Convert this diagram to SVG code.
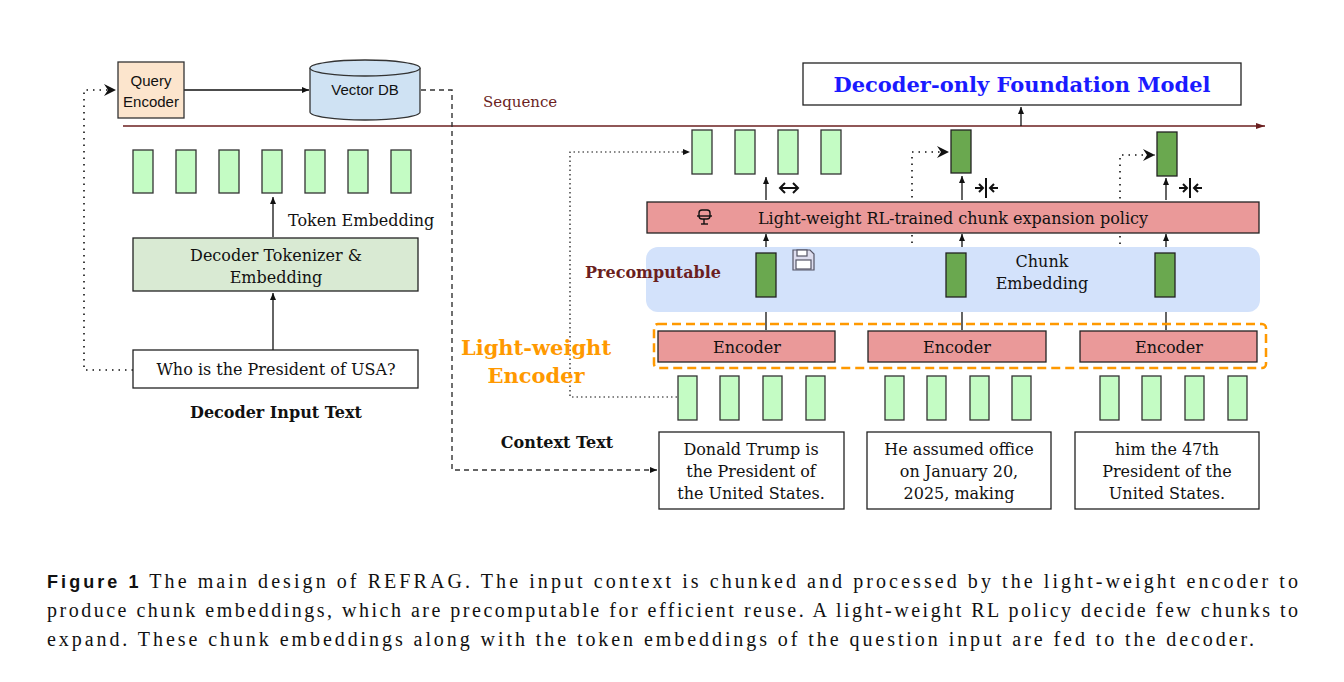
<svg xmlns="http://www.w3.org/2000/svg" width="1344" height="682" viewBox="0 0 1344 682">
<style>
.s{font-family:"Liberation Sans",Arial,sans-serif;font-size:15px;fill:#111}
.t{font-family:"DejaVu Serif","Liberation Serif",serif;font-size:16px;fill:#111}
.b{font-family:"DejaVu Serif","Liberation Serif",serif;font-weight:bold;font-size:16px;fill:#111}
.cap{font-family:"Liberation Serif","Times New Roman",serif;font-size:20px;fill:#111}
.lg{fill:#c4fcc4;stroke:#333;stroke-width:1.3}
.dg{fill:#6aa84f;stroke:#222;stroke-width:1.3}
.ln{stroke:#111;stroke-width:1.3;fill:none}
.dot{stroke:#111;stroke-width:1.6;fill:none;stroke-dasharray:1.5 5}
.fdot{stroke:#111;stroke-width:1.2;fill:none;stroke-dasharray:1.5 3}
.box{fill:#fff;stroke:#222;stroke-width:1.3}
.enc{fill:#ea9999;stroke:#222;stroke-width:1.3}
</style>
<defs>
<marker id="a" markerWidth="8" markerHeight="8" refX="7" refY="4" orient="auto" markerUnits="userSpaceOnUse"><path d="M0,1 L7,4 L0,7 z" fill="#111"/></marker>
<marker id="fa" markerWidth="14" markerHeight="12" refX="12" refY="6" orient="auto" markerUnits="userSpaceOnUse"><path d="M0,0 L12,6 L0,12 L4,6 z" fill="#111"/></marker>
<marker id="ra" markerWidth="10" markerHeight="8" refX="9" refY="4" orient="auto" markerUnits="userSpaceOnUse"><path d="M0,1 L9,4 L0,7 z" fill="#6b1f1f"/></marker>
</defs>

<g id="connectors">
<line x1="123" y1="126" x2="1265" y2="126" stroke="#6b1f1f" stroke-width="1.5" marker-end="url(#ra)"/>
<line class="ln" x1="184" y1="90" x2="309" y2="90" marker-end="url(#a)"/>
<path d="M421,90 H452 V470 H657" fill="none" stroke="#333" stroke-width="1.4" stroke-dasharray="5 4" marker-end="url(#a)"/>
<path class="dot" d="M133,370 H84 V90 H116" marker-end="url(#fa)"/>
<line class="ln" x1="1021" y1="126" x2="1021" y2="107" marker-end="url(#a)"/>
<line class="ln" x1="273" y1="237" x2="273" y2="197" marker-end="url(#a)"/>
<line class="ln" x1="273" y1="350" x2="273" y2="293" marker-end="url(#a)"/>
<path class="fdot" d="M677,397 H570 V152 H690" marker-end="url(#a)"/>
<path class="dot" d="M945,275 H912 V152 H949" marker-end="url(#fa)"/>
<path class="dot" d="M1154,275 H1120 V155 H1155" marker-end="url(#fa)"/>
<line class="ln" x1="766" y1="200" x2="766" y2="177" marker-end="url(#a)"/>
<line class="ln" x1="962" y1="200" x2="962" y2="176" marker-end="url(#a)"/>
<line class="ln" x1="1166" y1="200" x2="1166" y2="178" marker-end="url(#a)"/>
<line class="ln" x1="766" y1="255" x2="766" y2="234" marker-end="url(#a)"/>
<line class="ln" x1="962" y1="255" x2="962" y2="234" marker-end="url(#a)"/>
<line class="ln" x1="1166" y1="255" x2="1166" y2="234" marker-end="url(#a)"/>
<line class="ln" x1="766" y1="330" x2="766" y2="298" marker-end="url(#a)"/>
<line class="ln" x1="962" y1="330" x2="962" y2="298" marker-end="url(#a)"/>
<line class="ln" x1="1166" y1="330" x2="1166" y2="298" marker-end="url(#a)"/>
</g>

<g id="query-encoder"><rect x="118" y="62" width="66" height="56" fill="#fce5cd" stroke="#333" stroke-width="1.3"/>
<text class="s" x="151" y="86" text-anchor="middle">Query</text><text class="s" x="151" y="107" text-anchor="middle">Encoder</text></g>

<g id="vector-db"><path d="M310,68 V112 A55,8 0 0 0 420,112 V68" fill="#cfe2f3" stroke="#333" stroke-width="1.3"/>
<ellipse cx="365" cy="68" rx="55" ry="8" fill="#cfe2f3" stroke="#333" stroke-width="1.3"/>
<text class="s" x="365" y="95" text-anchor="middle">Vector DB</text></g>

<text x="483" y="107" font-family="DejaVu Serif,Liberation Serif,serif" font-size="15" fill="#6b1f1f">Sequence</text>

<g id="decoder-model"><rect x="803" y="63" width="438" height="42" class="box"/>
<text x="1022" y="92" text-anchor="middle" font-family="DejaVu Serif,Liberation Serif,serif" font-weight="bold" font-size="21" fill="#1a1aff">Decoder-only Foundation Model</text></g>

<g id="token-embeddings">
<rect class="lg" x="133" y="150" width="20" height="43"/><rect class="lg" x="176" y="150" width="20" height="43"/><rect class="lg" x="219" y="150" width="20" height="43"/><rect class="lg" x="262" y="150" width="20" height="43"/><rect class="lg" x="305" y="150" width="20" height="43"/><rect class="lg" x="348" y="150" width="20" height="43"/><rect class="lg" x="391" y="150" width="20" height="43"/>
<text class="t" x="288" y="226">Token Embedding</text></g>

<g id="decoder-tokenizer"><rect x="133" y="238" width="285" height="53" fill="#d9ead3" stroke="#222" stroke-width="1.3"/>
<text class="t" x="276" y="261" text-anchor="middle">Decoder Tokenizer &amp;</text><text class="t" x="276" y="283" text-anchor="middle">Embedding</text></g>

<g id="input-text"><rect x="133" y="350" width="285" height="38" class="box"/>
<text class="t" x="276" y="375" text-anchor="middle">Who is the President of USA?</text>
<text class="b" x="276" y="418" text-anchor="middle">Decoder Input Text</text></g>

<g id="expanded-tokens">
<rect class="lg" x="692" y="130" width="20" height="44"/><rect class="lg" x="735" y="130" width="20" height="44"/><rect class="lg" x="778" y="130" width="20" height="44"/><rect class="lg" x="821" y="130" width="20" height="44"/>
<rect class="dg" x="951" y="130" width="20" height="43"/><rect class="dg" x="1157" y="132" width="20" height="44"/></g>

<g id="icons" stroke="#111" stroke-width="2" fill="none">
<path d="M780,188 H798 M785,183 L780,188 L785,193 M793,183 L798,188 L793,193"/>
<path d="M975,188 H983 M979,184 L983,188 L979,192 M986,178 V198 M998,188 H990 M994,184 L990,188 L994,192"/>
<path d="M1179,188 H1187 M1183,184 L1187,188 L1183,192 M1190,178 V198 M1202,188 H1194 M1198,184 L1194,188 L1198,192"/>
</g>

<g id="policy"><rect x="647" y="202" width="612" height="31" class="enc"/>
<g stroke="#111" stroke-width="1.4" fill="none"><rect x="699" y="210" width="11" height="9" rx="3"/><line x1="697" y1="216" x2="712" y2="216"/><line x1="704" y1="219" x2="704" y2="224"/><line x1="701" y1="224" x2="708" y2="224"/></g>
<text class="t" x="953" y="224" text-anchor="middle">Light-weight RL-trained chunk expansion policy</text></g>

<g id="chunk-embedding"><rect x="646" y="247" width="614" height="65" rx="12" fill="#d3e2fb"/>
<rect class="dg" x="756" y="253" width="20" height="44"/><rect class="dg" x="946" y="253" width="20" height="44"/><rect class="dg" x="1155" y="253" width="20" height="44"/>
<g stroke="#556" stroke-width="1.2" fill="#dde"><path d="M793,250 H810 L814,254 V270 H793 Z"/><rect x="797" y="250" width="10" height="6" fill="#fff"/><rect x="796" y="260" width="15" height="9" fill="#fff"/></g>
<text class="t" x="1042" y="267" text-anchor="middle">Chunk</text><text class="t" x="1042" y="289" text-anchor="middle">Embedding</text>
<text x="585" y="278" font-family="DejaVu Serif,Liberation Serif,serif" font-weight="bold" font-size="16" fill="#6b1f1f">Precomputable</text></g>

<g id="encoders"><rect x="654" y="324" width="612" height="44" rx="4" fill="none" stroke="#ff9900" stroke-width="2.5" stroke-dasharray="9 5"/>
<rect x="658" y="331" width="177" height="31" class="enc"/><rect x="868" y="331" width="178" height="31" class="enc"/><rect x="1080" y="331" width="177" height="31" class="enc"/>
<text class="t" x="747" y="353" text-anchor="middle">Encoder</text><text class="t" x="957" y="353" text-anchor="middle">Encoder</text><text class="t" x="1169" y="353" text-anchor="middle">Encoder</text>
<text x="536" y="355" text-anchor="middle" font-family="DejaVu Serif,Liberation Serif,serif" font-weight="bold" font-size="21" fill="#ff9900">Light-weight</text>
<text x="536" y="383" text-anchor="middle" font-family="DejaVu Serif,Liberation Serif,serif" font-weight="bold" font-size="21" fill="#ff9900">Encoder</text></g>

<g id="context-tokens">
<rect class="lg" x="678" y="376" width="19" height="44"/><rect class="lg" x="720" y="376" width="19" height="44"/><rect class="lg" x="763" y="376" width="19" height="44"/><rect class="lg" x="806" y="376" width="19" height="44"/>
<rect class="lg" x="885" y="376" width="19" height="44"/><rect class="lg" x="927" y="376" width="19" height="44"/><rect class="lg" x="970" y="376" width="19" height="44"/><rect class="lg" x="1012" y="376" width="19" height="44"/>
<rect class="lg" x="1100" y="376" width="19" height="44"/><rect class="lg" x="1142" y="376" width="19" height="44"/><rect class="lg" x="1185" y="376" width="19" height="44"/><rect class="lg" x="1228" y="376" width="19" height="44"/></g>

<g id="context-text"><text class="b" x="557" y="448" text-anchor="middle">Context Text</text>
<rect x="659" y="432" width="185" height="77" class="box"/><rect x="867" y="432" width="184" height="77" class="box"/><rect x="1075" y="432" width="184" height="77" class="box"/>
<text class="t" x="751" y="455" text-anchor="middle">Donald Trump is</text><text class="t" x="751" y="477" text-anchor="middle">the President of</text><text class="t" x="751" y="499" text-anchor="middle">the United States.</text>
<text class="t" x="959" y="455" text-anchor="middle">He assumed office</text><text class="t" x="959" y="477" text-anchor="middle">on January 20,</text><text class="t" x="959" y="499" text-anchor="middle">2025, making</text>
<text class="t" x="1167" y="455" text-anchor="middle">him the 47th</text><text class="t" x="1167" y="477" text-anchor="middle">President of the</text><text class="t" x="1167" y="499" text-anchor="middle">United States.</text></g>

<g id="caption">
<text x="47" y="588" textLength="1251" lengthAdjust="spacing"><tspan font-family="Liberation Sans,Arial,sans-serif" font-weight="bold" font-size="18" fill="#111">Figure 1</tspan><tspan class="cap"> The main design of REFRAG. The input context is chunked and processed by the light-weight encoder to</tspan></text>
<text class="cap" x="47" y="617" textLength="1251" lengthAdjust="spacing">produce chunk embeddings, which are precomputable for efficient reuse. A light-weight RL policy decide few chunks to</text>
<text class="cap" x="47" y="646" textLength="1207" lengthAdjust="spacing">expand. These chunk embeddings along with the token embeddings of the question input are fed to the decoder.</text>
</g>
</svg>
